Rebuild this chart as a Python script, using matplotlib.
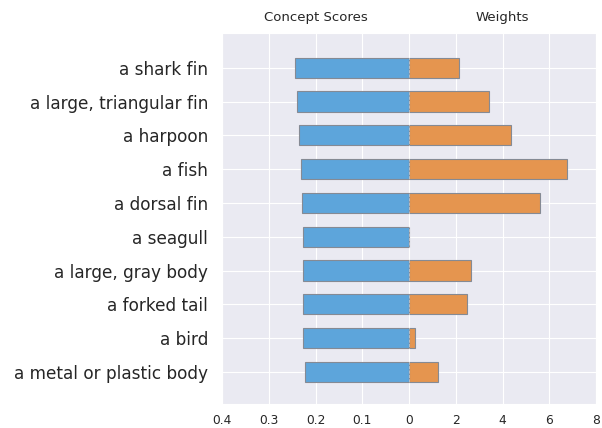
import numpy as np
import matplotlib
matplotlib.use("Agg")
import matplotlib.pyplot as plt
import seaborn as sns

sns.set_style("darkgrid")
plt.rcParams['font.family'] = ['DejaVu Sans']

concepts = ["a shark fin", "a large, triangular fin", "a harpoon", "a fish",
            "a dorsal fin", "a seagull", "a large, gray body", "a forked tail",
            "a bird", "a metal or plastic body"]
scores = [0.244, 0.240, 0.235, 0.232, 0.229, 0.228, 0.227, 0.227, 0.226, 0.223]
weights = [2.12, 3.42, 4.35, 6.78, 5.62, 0.0, 2.64, 2.47, 0.26, 1.25]

score_ticks = [0.4, 0.3, 0.2, 0.1]
weight_ticks = [0, 2, 4, 6, 8]

# left half: scores (0.1 per unit), right half: weights (2 per unit)
y = np.arange(len(concepts))
left = -np.array(scores) * 10
right = np.array(weights) / 2

fig, ax = plt.subplots(figsize=(6.02, 4.28), dpi=100)
ax.barh(y, left, height=0.6, color="#5da5db", edgecolor="#858a94", linewidth=0.8)
lw = [0.8 if w > 0 else 0 for w in weights]
ax.barh(y, right, height=0.6, color="#e5954f", edgecolor="#858a94", linewidth=lw)
ax.axvline(0, color="white", linestyle="--", linewidth=0.6, alpha=0.5)

ax.set_yticks(y)
ax.set_yticklabels(concepts, fontsize=12.2)
ax.set_ylim(len(concepts) - 0.05, -1.03)

xt = [-s * 10 for s in score_ticks] + [w / 2 for w in weight_ticks]
xl = [f"{s:g}" for s in score_ticks] + [f"{w:g}" for w in weight_ticks]
ax.set_xticks(xt)
ax.set_xticklabels(xl, fontsize=8.8)
ax.set_xlim(-4, 4)
ax.tick_params(axis="y", length=0, pad=10)
ax.tick_params(axis="x", length=0, pad=7)

ax.text(0.25, 1.025, "Concept Scores", transform=ax.transAxes, ha="center",
        va="bottom", fontsize=9.5, color="#262626")
ax.text(0.75, 1.025, "Weights", transform=ax.transAxes, ha="center",
        va="bottom", fontsize=9.5, color="#262626")

plt.subplots_adjust(left=0.369, right=0.99, top=0.923, bottom=0.056)
plt.savefig("out.png", dpi=100)
